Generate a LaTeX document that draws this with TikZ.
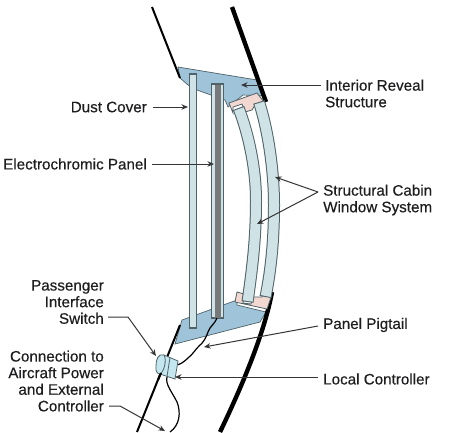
\documentclass[tikz,border=0pt]{standalone}
\usepackage{fontspec}
\setmainfont{Liberation Sans}[BoldFont={Liberation Sans},BoldFeatures={FakeBold=0.35}]
\usetikzlibrary{arrows.meta}
\definecolor{ink}{HTML}{1E1E20}
\definecolor{reveal}{HTML}{9FC4DA}
\definecolor{pane}{HTML}{CFE3E6}
\definecolor{edge}{HTML}{4F6268}
\definecolor{seal}{HTML}{F3D8D2}
\definecolor{gel}{HTML}{77787A}
\definecolor{ctrl}{HTML}{C4E6EF}
\tikzset{
 lab/.style={font=\fontsize{15.2}{16.6}\selectfont\bfseries,text=ink,inner sep=0pt,align=left,anchor=west},
 labr/.style={font=\fontsize{15.2}{16.6}\selectfont\bfseries,text=ink,inner sep=0pt,align=right,anchor=east},
 lead/.style={draw=ink!90,line width=1pt,-{Stealth[length=6.5pt,width=5.5pt]}},
 thinwall/.style={draw=black,line width=2pt},
 thickwall/.style={draw=black,line width=4.4pt},
 wire/.style={draw=black,line width=1.2pt},
 blue/.style={fill=reveal,draw=edge,line width=.7pt},
 sealbox/.style={fill=seal,draw=edge,line width=.8pt},
 paneout/.style={draw=edge,line width=12pt},
 panein/.style={draw=pane,line width=10pt},
 flat/.style={fill=pane,draw=edge,line width=1.1pt},
}
\begin{document}
\begin{tikzpicture}[x=1pt,y=-1pt]
\useasboundingbox (0,0) rectangle (452,432);
\fill[white] (0,0) rectangle (452,432);
% reveal structure
\draw[blue] (178,67) -- (257,80) -- (264,96) -- (243,95) -- (228,107) -- (225,100) -- (197,90) -- (188,85) -- (180,78) -- cycle;
\draw[blue] (182,320) -- (237,300) -- (237,305) -- (266,312) -- (260,322) -- (175,344) -- cycle;
% walls
\draw[thinwall] (152,7) -- (180,78);
\draw[thinwall] (180,325) -- (137,432);
\draw[thickwall] (232,7) -- (266,102);
\draw[thickwall] (272,292) .. controls (265,330) and (245,380) .. (220,432);
% seals
\draw[sealbox] (229,103) -- (257,93) -- (264,102) -- (255,105) -- (252,110) -- (245,112) -- (242,104) -- (233,107) -- (233,113) -- cycle;
\draw[sealbox] (237,292) -- (235,302) -- (267,309) -- (271,297) -- (265,290) -- (262,297) -- (253,297) -- (251,304) -- (243,303) -- (244,294) -- cycle;
% window panes
\draw[paneout] (238.5,108) .. controls (249,135) and (256,170) .. (256,200) .. controls (256,240) and (252,270) .. (247.5,302);
\draw[panein] (238.9,109) .. controls (249,135) and (256,170) .. (256,200) .. controls (256,240) and (252,270) .. (247.7,301);
\draw[paneout] (259,102) .. controls (268,130) and (274,170) .. (274,205) .. controls (274,240) and (271,270) .. (265.5,297);
\draw[panein] (259.3,103) .. controls (268,130) and (274,170) .. (274,205) .. controls (274,240) and (271,270) .. (265.7,296);
% dust cover and panel
\draw[flat] (189.5,74) rectangle (196.5,328);
\draw[flat] (211.5,84) rectangle (223.5,318);
\fill[gel] (214.5,84.5) rectangle (220.5,317.5);
% wires
\draw[wire] (217,318) .. controls (214,325) and (210,326) .. (208,332) .. controls (206,338) and (203,343) .. (199,346) .. controls (195,350) and (193,354) .. (188,358) .. controls (185,361) and (180,365) .. (176,365);
\draw[wire] (167,377) .. controls (165,384) and (172,392) .. (177,402) .. controls (181,412) and (180,425) .. (170,432);
% controller
\draw[fill=ctrl,draw=edge,line width=.8pt] (164,355) -- (178,361) -- (175,379) -- (160,374) -- cycle;
\draw[fill=ctrl,draw=edge,line width=.8pt] (164,355) .. controls (158,353) and (156,360) .. (156,366) .. controls (155,372) and (158,374) .. (160,374) .. controls (164,372) and (167,360) .. (164,355) -- cycle;
\draw[edge,line width=.8pt] (170,357.5) -- (167,376.5);
\draw[black,line width=2pt] (161,373) -- (158,380);
% labels
\node[labr] (dust) at (147,107) {Dust Cover};
\node[labr] (electro) at (147,164) {Electrochromic Panel};
\node[labr] (switch) at (104,302) {Passenger\\Interface\\Switch};
\node[labr] (power) at (104,381) {Connection to\\Aircraft Power\\and External\\Controller};
\node[lab] (reveallab) at (325,93.5) {Interior Reveal\\Structure};
\node[lab] (window) at (323,200) {Structural Cabin\\Window System};
\node[lab] (pigtail) at (323,325) {Panel Pigtail};
\node[lab] (local) at (323,379) {Local Controller};
% targets
\coordinate (tDust) at (188,107);
\coordinate (tElectro) at (214,164);
\coordinate (tReveal) at (241,85);
\coordinate (jWindow) at (318,192);
\coordinate (tWinA) at (275,177);
\coordinate (tWinB) at (257,224);
\coordinate (tPig) at (204,347);
\coordinate (tLocal) at (175,377);
\coordinate (bSwitch) at (128,317);
\coordinate (tSwitch) at (156,356);
\coordinate (bPower) at (120,406);
\coordinate (tPower) at (165,431);
% leaders
\draw[lead] (dust.east) ++(6,0) -- (tDust);
\draw[lead] (electro.east) ++(5,0) -- (tElectro);
\draw[lead] (reveallab.west |- tReveal) ++(-4,0) -- (tReveal);
\draw[lead] (jWindow) -- (tWinA);
\draw[lead] (jWindow) -- (tWinB);
\draw[lead] (pigtail.west) ++(-5,1) -- (tPig);
\draw[lead] (local.west) ++(-5,-2) -- (tLocal);
\draw[lead] (switch.east |- bSwitch) ++(4,0) -- (bSwitch) -- (tSwitch);
\draw[lead] (power.east |- bPower) ++(5,0) -- (bPower) -- (tPower);
\end{tikzpicture}
\end{document}
